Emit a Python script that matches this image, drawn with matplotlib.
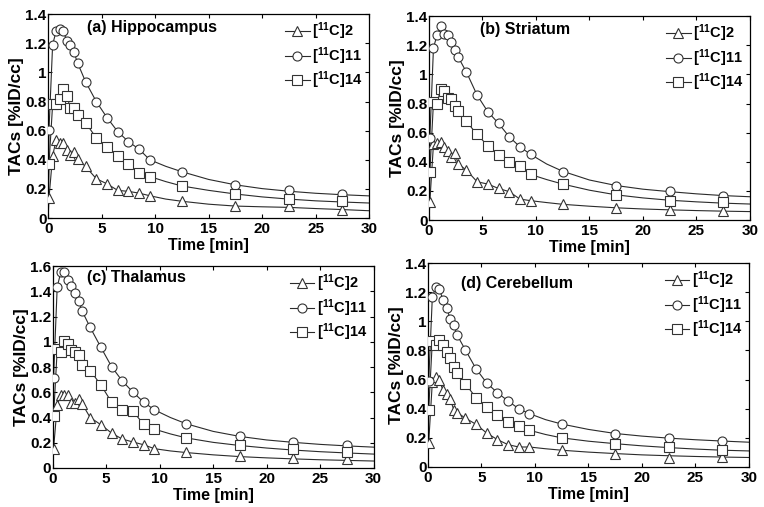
import matplotlib.pyplot as plt
from matplotlib.ticker import FuncFormatter

plt.rcParams['font.family'] = 'Liberation Sans'
plt.rcParams['font.weight'] = 'bold'
plt.rcParams['mathtext.fontset'] = 'custom'
plt.rcParams['mathtext.rm'] = 'Liberation Sans:bold'
plt.rcParams['mathtext.bf'] = 'Liberation Sans:bold'
plt.rcParams['mathtext.default'] = 'bf'

# mid-frame times [min]
time = [0.08, 0.42, 0.75, 1.08, 1.42, 1.75, 2.08, 2.42, 2.75, 3.5,
        4.5, 5.5, 6.5, 7.5, 8.5, 9.5, 12.5, 17.5, 22.5, 27.5]
# model fit in the tail [min]
tail_time = [11, 12.5, 15, 17.5, 20, 22.5, 25, 27.5, 30]

tracers = ['[$^{11}$C]2', '[$^{11}$C]11', '[$^{11}$C]14']
regions = ['(a) Hippocampus', '(b) Striatum', '(c) Thalamus', '(d) Cerebellum']

# (a) hippocampus
hippo_2 = [0.137, 0.427, 0.537, 0.514, 0.514, 0.468, 0.434, 0.45, 0.404, 0.354,
           0.27, 0.235, 0.19, 0.183, 0.171, 0.153, 0.114, 0.08, 0.08, 0.057]
hippo_11 = [0.605, 1.19, 1.285, 1.297, 1.283, 1.217, 1.187, 1.137, 1.066, 0.936,
            0.80, 0.69, 0.594, 0.525, 0.473, 0.40, 0.315, 0.228, 0.19, 0.167]
hippo_14 = [0.372, 0.78, 0.783, 0.817, 0.884, 0.84, 0.753, 0.755, 0.708, 0.655,
            0.55, 0.49, 0.427, 0.37, 0.308, 0.285, 0.217, 0.167, 0.132, 0.114]
hippo_2_fit = [0.13, 0.115, 0.095, 0.082, 0.077, 0.073, 0.065, 0.058, 0.05]
hippo_11_fit = [0.355, 0.318, 0.265, 0.228, 0.202, 0.184, 0.170, 0.160, 0.152]
hippo_14_fit = [0.25, 0.22, 0.19, 0.165, 0.145, 0.13, 0.118, 0.11, 0.103]

# (b) striatum
stria_2 = [0.126, 0.522, 0.526, 0.538, 0.503, 0.476, 0.43, 0.458, 0.384, 0.343,
           0.263, 0.247, 0.217, 0.195, 0.144, 0.133, 0.108, 0.085, 0.069, 0.062]
stria_11 = [0.565, 1.183, 1.27, 1.334, 1.281, 1.27, 1.224, 1.167, 1.117, 1.016,
            0.858, 0.744, 0.664, 0.572, 0.503, 0.451, 0.332, 0.236, 0.199, 0.167]
stria_14 = [0.327, 0.812, 0.796, 0.897, 0.888, 0.835, 0.83, 0.785, 0.75, 0.677,
            0.588, 0.51, 0.446, 0.40, 0.373, 0.313, 0.247, 0.172, 0.133, 0.126]
stria_2_fit = [0.12, 0.108, 0.095, 0.084, 0.076, 0.07, 0.065, 0.061, 0.058]
stria_11_fit = [0.385, 0.335, 0.275, 0.237, 0.212, 0.195, 0.18, 0.168, 0.16]
stria_14_fit = [0.278, 0.247, 0.205, 0.173, 0.152, 0.136, 0.125, 0.116, 0.11]

# (c) thalamus
thal_2 = [0.153, 0.496, 0.58, 0.58, 0.575, 0.514, 0.514, 0.548, 0.509, 0.40,
          0.343, 0.277, 0.229, 0.206, 0.184, 0.153, 0.124, 0.092, 0.079, 0.071]
thal_11 = [0.717, 1.436, 1.55, 1.55, 1.489, 1.444, 1.384, 1.326, 1.244, 1.115,
           0.957, 0.804, 0.69, 0.601, 0.522, 0.461, 0.348, 0.25, 0.203, 0.179]
thal_14 = [0.409, 0.941, 0.922, 1.007, 0.98, 0.936, 0.922, 0.896, 0.817, 0.772,
           0.659, 0.522, 0.461, 0.448, 0.348, 0.308, 0.237, 0.179, 0.153, 0.127]
thal_2_fit = [0.135, 0.122, 0.104, 0.09, 0.08, 0.072, 0.065, 0.06, 0.055]
thal_11_fit = [0.40, 0.35, 0.29, 0.25, 0.222, 0.203, 0.187, 0.175, 0.165]
thal_14_fit = [0.27, 0.238, 0.203, 0.178, 0.158, 0.142, 0.129, 0.119, 0.11]

# (d) cerebellum
cereb_2 = [0.167, 0.584, 0.618, 0.595, 0.526, 0.499, 0.469, 0.394, 0.373, 0.336,
           0.293, 0.233, 0.188, 0.153, 0.137, 0.137, 0.114, 0.092, 0.064, 0.069]
cereb_11 = [0.588, 1.167, 1.236, 1.224, 1.144, 1.094, 1.018, 0.973, 0.904, 0.805,
            0.675, 0.577, 0.51, 0.453, 0.40, 0.366, 0.293, 0.229, 0.201, 0.178]
cereb_14 = [0.394, 0.865, 0.835, 0.874, 0.84, 0.789, 0.748, 0.686, 0.645, 0.572,
            0.476, 0.412, 0.355, 0.309, 0.279, 0.252, 0.199, 0.16, 0.137, 0.114]
cereb_2_fit = [0.125, 0.115, 0.102, 0.092, 0.083, 0.077, 0.072, 0.068, 0.065]
cereb_11_fit = [0.325, 0.295, 0.258, 0.23, 0.212, 0.198, 0.187, 0.178, 0.17]
cereb_14_fit = [0.223, 0.2, 0.177, 0.16, 0.145, 0.133, 0.123, 0.115, 0.11]

panels = [
    ([hippo_2, hippo_11, hippo_14], [hippo_2_fit, hippo_11_fit, hippo_14_fit], 1.4),
    ([stria_2, stria_11, stria_14], [stria_2_fit, stria_11_fit, stria_14_fit], 1.4),
    ([thal_2, thal_11, thal_14], [thal_2_fit, thal_11_fit, thal_14_fit], 1.6),
    ([cereb_2, cereb_11, cereb_14], [cereb_2_fit, cereb_11_fit, cereb_14_fit], 1.4),
]

# axes boxes in figure fractions, and title positions in axes fractions
boxes = [[0.063, 0.570, 0.420, 0.402], [0.5615, 0.566, 0.420, 0.402],
         [0.069, 0.077, 0.420, 0.398], [0.560, 0.079, 0.420, 0.402]]
title_pos = [(0.12, 0.935), (0.16, 0.935), (0.107, 0.945), (0.103, 0.90)]
markers = ['^', 'o', 's']
line_col = '#2b2b2b'

fig = plt.figure(figsize=(7.64, 5.07), dpi=100)
fmt = FuncFormatter(lambda v, p: '%g' % round(v, 2))

for k, (data, fits, ymax) in enumerate(panels):
    ax = fig.add_axes(boxes[k])
    handles = []
    for vals, fit, m, lab in zip(data, fits, markers, tracers):
        # fitted curve: starts at zero, follows the early frames, then the tail fit
        ax.plot([0] + time[:16] + tail_time, [0] + vals[:16] + fit,
                color=line_col, lw=0.8, zorder=2)
        ax.plot(time, vals, ls='none', marker=m, ms=6.5, mfc='white',
                mec='#333333', mew=0.8, zorder=3)
        h, = ax.plot([], [], color=line_col, lw=0.8, marker=m, ms=6.5,
                     mfc='white', mec='#333333', mew=0.8, label=lab)
        handles.append(h)

    ax.set_xlim(0, 30)
    ax.set_ylim(0, ymax)
    ax.set_xticks(range(0, 31, 5))
    ax.set_yticks([i * 0.2 for i in range(int(round(ymax / 0.2)) + 1)])
    ax.yaxis.set_major_formatter(fmt)
    ax.tick_params(direction='in', top=True, right=True, length=3,
                   labelsize=11, pad=1)
    ax.tick_params(axis='x', pad=3)
    for s in ax.spines.values():
        s.set_linewidth(0.9)
    ax.set_xlabel('Time [min]', fontsize=11.5, fontweight='bold', labelpad=1)
    ax.set_ylabel('TACs [%ID/cc]', fontsize=12.5, fontweight='bold', labelpad=1)
    ax.text(title_pos[k][0], title_pos[k][1], regions[k], transform=ax.transAxes,
            fontsize=11.5, fontweight='bold', va='center', ha='left')
    ax.legend(handles=handles, loc='upper right', frameon=False, fontsize=10.5,
              handlelength=1.7, handletextpad=0.15, labelspacing=0.2,
              borderaxespad=0.15, borderpad=0.3)

plt.savefig('out.png', dpi=100)
